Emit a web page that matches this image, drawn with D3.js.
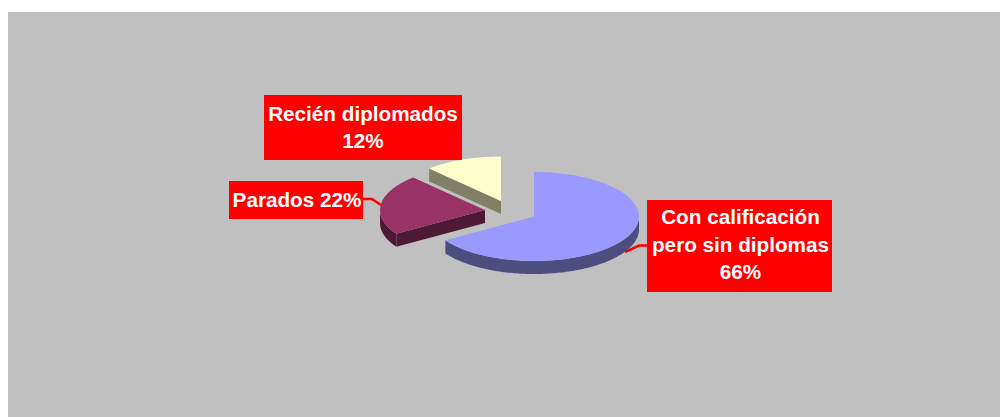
<!DOCTYPE html>
<html>
<head>
<meta charset="utf-8">
<script src="https://cdn.jsdelivr.net/npm/d3@7"></script>
<style>
  html, body { margin: 0; padding: 0; background: #fff; overflow: hidden; }
  svg { display: block; }
</style>
</head>
<body>
<svg id="chart" width="1000" height="417"></svg>
<script>
const categories = ["Con calificación pero sin diplomas", "Parados", "Recién diplomados"];
const shares = [66, 22, 12];
const labelLines = [
  ["Con calificación", "pero sin diplomas", "66%"],
  ["Parados 22%"],
  ["Recién diplomados", "12%"]
];

// chart layout, same order as categories
const topColors = ["#9999ff", "#993366", "#ffffcc"];
const sideColors = ["#4d4d80", "#4d1a33", "#808066"];
const centers = [[534, 216.5], [485, 210], [501, 201]];
const labelBoxes = [
  { x: 647, y: 200, w: 185, h: 92, cx: 740.5, base: 224 },
  { x: 229, y: 181, w: 134, h: 38, cx: 297, base: 207 },
  { x: 264, y: 95, w: 198, h: 65, cx: 363, base: 120.5 }
];
const leaders = [
  [[625, 252], [639, 245.5], [650, 245.5]],
  [[360, 199], [372, 199], [381, 205]],
  []
];

const rx = 105;
const ry = 44.5;
const depth = 13;
const lineStep = 27.5;

const svg = d3.select("#chart");

svg.append("rect")
  .attr("x", 8)
  .attr("y", 12)
  .attr("width", 992)
  .attr("height", 405)
  .attr("fill", "#c0c0c0");

const slices = d3.pie().sort(null).value(d => d)(shares);
const arc = d3.arc().innerRadius(0).outerRadius(rx);
const wallLine = d3.line();

// angle is clockwise from 12 o'clock, as in d3.pie
const edgePoint = (a, drop) => [rx * Math.sin(a), -ry * Math.cos(a) + drop];

function outerWall(start, end) {
  const from = Math.max(start, Math.PI / 2);
  const to = Math.min(end, Math.PI * 1.5);
  if (from >= to) return null;
  const angles = d3.range(from, to, 0.02).concat([to]);
  const top = angles.map(a => edgePoint(a, 0));
  const bottom = angles.slice().reverse().map(a => edgePoint(a, depth));
  return wallLine(top.concat(bottom)) + "Z";
}

function radialWall(a) {
  const p = edgePoint(a, 0);
  const q = edgePoint(a, depth);
  return wallLine([[0, 0], p, q, [0, depth]]) + "Z";
}

// red leader lines go under the boxes
svg.append("g")
  .selectAll("path")
  .data(leaders.filter(l => l.length))
  .join("path")
  .attr("d", d3.line())
  .attr("fill", "none")
  .attr("stroke", "#ff0000")
  .attr("stroke-width", 2.5);

const pieces = svg.append("g")
  .selectAll("g")
  .data(slices)
  .join("g")
  .attr("transform", (d, i) => `translate(${centers[i]})`);

pieces.each(function (d, i) {
  const g = d3.select(this);
  const wall = outerWall(d.startAngle, d.endAngle);
  // first slice hides its radial faces, the other two show the front one
  if (i > 0) g.append("path").attr("d", radialWall(d.startAngle)).attr("fill", sideColors[i]);
  if (wall) g.append("path").attr("d", wall).attr("fill", sideColors[i]);
  g.append("path")
    .attr("d", arc(d))
    .attr("transform", `scale(1,${ry / rx})`)
    .attr("fill", topColors[i]);
});

const labels = svg.append("g")
  .selectAll("g")
  .data(categories)
  .join("g");

labels.append("rect")
  .attr("x", (d, i) => labelBoxes[i].x)
  .attr("y", (d, i) => labelBoxes[i].y)
  .attr("width", (d, i) => labelBoxes[i].w)
  .attr("height", (d, i) => labelBoxes[i].h)
  .attr("fill", "#ff0000");

labels.each(function (d, i) {
  d3.select(this)
    .selectAll("text")
    .data(labelLines[i])
    .join("text")
    .attr("x", labelBoxes[i].cx)
    .attr("y", (t, j) => labelBoxes[i].base + j * lineStep)
    .attr("text-anchor", "middle")
    .attr("font-family", "'Liberation Sans', Arial, sans-serif")
    .attr("font-weight", "bold")
    .attr("font-size", 20.7)
    .attr("fill", "#ffffff")
    .text(t => t);
});
</script>
</body>
</html>
